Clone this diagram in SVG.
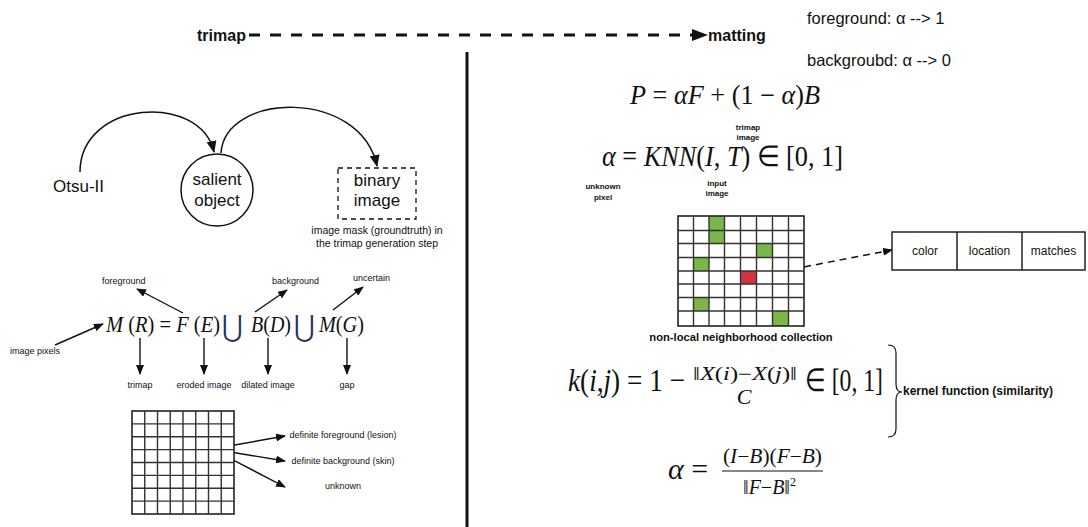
<svg xmlns="http://www.w3.org/2000/svg" width="1088" height="527" viewBox="0 0 1088 527">
<style>
.s{font-family:"Liberation Sans",Arial,sans-serif;fill:#111}
.b{font-weight:bold}
.m{font-family:"Liberation Serif","Times New Roman",serif;fill:#111}
.i{font-style:italic}
.u{font-family:"DejaVu Serif",serif;fill:#26325e}
.ln{stroke:#111;fill:none}
.g{stroke:#333;stroke-width:1.4;fill:none}
.t9{font-size:9px}
</style>
<defs>
<marker id="ah" markerUnits="userSpaceOnUse" markerWidth="12" markerHeight="10" refX="11" refY="5" orient="auto"><path d="M0,0 L12,5 L0,10 z" fill="#111"/></marker>
<marker id="ahs" markerUnits="userSpaceOnUse" markerWidth="10" markerHeight="8" refX="9" refY="4" orient="auto"><path d="M0,0 L10,4 L0,8 z" fill="#111"/></marker>
<marker id="ahb" markerUnits="userSpaceOnUse" markerWidth="16" markerHeight="12" refX="15" refY="6" orient="auto"><path d="M0,0 L16,6 L0,12 z" fill="#111"/></marker>
</defs>
<rect width="1088" height="527" fill="#fff"/>

<g id="connectors">
<line x1="249" y1="35" x2="707" y2="35" class="ln" stroke-width="3" stroke-dasharray="11,10" marker-end="url(#ahb)"/>
<line x1="467" y1="52" x2="467" y2="527" class="ln" stroke-width="3"/>
<path d="M80,172 C80,100 200,92 214,152" class="ln" stroke-width="1.5" marker-end="url(#ah)"/>
<path d="M221,153 C225,92 360,88 377,166" class="ln" stroke-width="1.5" marker-end="url(#ah)"/>
<line x1="183" y1="313" x2="137" y2="289" class="ln" stroke-width="1.4" marker-end="url(#ahs)"/>
<line x1="255" y1="312" x2="287" y2="290" class="ln" stroke-width="1.4" marker-end="url(#ahs)"/>
<line x1="333" y1="310" x2="363" y2="287" class="ln" stroke-width="1.4" marker-end="url(#ahs)"/>
<line x1="55" y1="345" x2="103" y2="324" class="ln" stroke-width="1.4" marker-end="url(#ahs)"/>
<line x1="140" y1="338" x2="140" y2="374" class="ln" stroke-width="1.4" marker-end="url(#ahs)"/>
<line x1="204" y1="338" x2="204" y2="374" class="ln" stroke-width="1.4" marker-end="url(#ahs)"/>
<line x1="268" y1="338" x2="268" y2="374" class="ln" stroke-width="1.4" marker-end="url(#ahs)"/>
<line x1="347" y1="338" x2="347" y2="374" class="ln" stroke-width="1.4" marker-end="url(#ahs)"/>
<line x1="212" y1="449" x2="285" y2="436" class="ln" stroke-width="1.4" marker-end="url(#ahs)"/>
<line x1="212" y1="449" x2="285" y2="461" class="ln" stroke-width="1.4" marker-end="url(#ahs)"/>
<line x1="212" y1="449" x2="285" y2="487" class="ln" stroke-width="1.4" marker-end="url(#ahs)"/>
<line x1="757" y1="276" x2="892" y2="250" class="ln" stroke-width="1.5" stroke-dasharray="7,5" marker-end="url(#ahs)"/>
<path d="M888,345 Q896,345 896,353 L896,384 Q896,392 902,392 Q896,392 896,400 L896,429 Q896,437 888,437" class="ln" stroke-width="1.2"/>
</g>

<g id="trimap"><text x="197" y="41" class="s b" font-size="16">trimap</text></g>
<g id="matting"><text x="708" y="41" class="s b" font-size="16">matting</text></g>
<g id="fg-note"><text x="807" y="24" class="s" font-size="16.5">foreground: α --&gt; 1</text></g>
<g id="bg-note"><text x="807" y="66" class="s" font-size="16.5">backgroubd: α --&gt; 0</text></g>

<g id="otsu"><text x="53" y="192" class="s" font-size="17">Otsu-II</text></g>
<g id="salient">
<circle cx="217" cy="190" r="36" fill="#fff" stroke="#111" stroke-width="1.5"/>
<text x="217" y="185" class="s" font-size="17" text-anchor="middle">salient</text>
<text x="217" y="206" class="s" font-size="17" text-anchor="middle">object</text>
</g>
<g id="binary">
<rect x="338" y="168" width="78" height="51" fill="#fff" stroke="#111" stroke-width="1.3" stroke-dasharray="5,4"/>
<text x="377" y="186" class="s" font-size="17" text-anchor="middle">binary</text>
<text x="377" y="206" class="s" font-size="17" text-anchor="middle">image</text>
<text x="377" y="234" class="s" font-size="10.5" text-anchor="middle">image mask (groundtruth) in</text>
<text x="377" y="247" class="s" font-size="10.5" text-anchor="middle">the trimap generation step</text>
</g>

<g id="formula-m">
<text x="106" y="332" class="m" font-size="23" textLength="114" lengthAdjust="spacingAndGlyphs"><tspan class="i">M</tspan> (<tspan class="i">R</tspan>) = <tspan class="i">F</tspan> (<tspan class="i">E</tspan>)</text>
<text x="222" y="337" class="u" font-size="30" textLength="21" lengthAdjust="spacingAndGlyphs">⋃</text>
<text x="251" y="332" class="m" font-size="23" textLength="40" lengthAdjust="spacingAndGlyphs"><tspan class="i">B</tspan>(<tspan class="i">D</tspan>)</text>
<text x="294" y="337" class="u" font-size="30" textLength="21" lengthAdjust="spacingAndGlyphs">⋃</text>
<text x="319" y="332" class="m" font-size="23" textLength="45" lengthAdjust="spacingAndGlyphs"><tspan class="i">M</tspan>(<tspan class="i">G</tspan>)</text>
</g>
<g id="labels-m" class="s t9">
<text x="102" y="284">foreground</text>
<text x="272" y="284">background</text>
<text x="353" y="281">uncertain</text>
<text x="10" y="354">image pixels</text>
<text x="140" y="388" text-anchor="middle">trimap</text>
<text x="204" y="388" text-anchor="middle">eroded image</text>
<text x="268" y="388" text-anchor="middle">dilated image</text>
<text x="347" y="388" text-anchor="middle">gap</text>
</g>

<g id="grid-left">
<rect x="132" y="411" width="102" height="103" fill="#fff" stroke="#222" stroke-width="1.6"/>
<path class="g" d="M144.75,411V514M157.5,411V514M170.25,411V514M183,411V514M195.75,411V514M208.5,411V514M221.25,411V514M132,423.9H234M132,436.75H234M132,449.6H234M132,462.5H234M132,475.4H234M132,488.25H234M132,501.1H234"/>
</g>
<g id="labels-grid" class="s t9">
<text x="343" y="438" text-anchor="middle">definite foreground (lesion)</text>
<text x="343" y="464" text-anchor="middle">definite background (skin)</text>
<text x="343" y="489" text-anchor="middle">unknown</text>
</g>

<g id="formula-p">
<text x="630" y="104" class="m" font-size="27" textLength="190" lengthAdjust="spacingAndGlyphs"><tspan class="i">P</tspan> = <tspan class="i">αF</tspan> + (1 − <tspan class="i">α</tspan>)<tspan class="i">B</tspan></text>
</g>
<g id="formula-knn">
<text x="602" y="166" class="m" font-size="29" textLength="241" lengthAdjust="spacingAndGlyphs"><tspan class="i">α</tspan> = <tspan class="i">KNN</tspan>(<tspan class="i">I</tspan>, <tspan class="i">T</tspan>) ∈ [0, 1]</text>
</g>
<g id="labels-knn" class="s b" font-size="8">
<text x="748" y="130" text-anchor="middle">trimap</text>
<text x="748" y="140" text-anchor="middle">image</text>
<text x="603" y="189" text-anchor="middle">unknown</text>
<text x="603" y="200" text-anchor="middle">pixel</text>
<text x="717" y="186" text-anchor="middle">input</text>
<text x="717" y="196" text-anchor="middle">image</text>
</g>

<g id="grid-right">
<rect x="678" y="216" width="126" height="110" fill="#fff"/>
<rect x="709" y="216" width="15.5" height="14.5" fill="#7ab648"/>
<rect x="709" y="230.5" width="15.5" height="13" fill="#7ab648"/>
<rect x="756.5" y="243.5" width="16" height="14" fill="#7ab648"/>
<rect x="693.5" y="257.5" width="15.5" height="13.5" fill="#7ab648"/>
<rect x="693.5" y="297.5" width="15.5" height="13.5" fill="#7ab648"/>
<rect x="772.5" y="311" width="16" height="15" fill="#7ab648"/>
<rect x="740.5" y="271" width="16" height="13" fill="#d0343f"/>
<rect x="678" y="216" width="126" height="110" fill="none" stroke="#222" stroke-width="1.6"/>
<path class="g" d="M693.5,216V326M709,216V326M724.5,216V326M740.5,216V326M756.5,216V326M772.5,216V326M788.5,216V326M678,230.5H804M678,243.5H804M678,257.5H804M678,271H804M678,284H804M678,297.5H804M678,311H804"/>
<text x="741" y="341" class="s b" font-size="11.2" text-anchor="middle">non-local neighborhood collection</text>
</g>

<g id="table">
<rect x="892" y="232" width="193" height="38" fill="#fff" stroke="#222" stroke-width="1.5"/>
<line x1="957" y1="232" x2="957" y2="270" stroke="#222" stroke-width="1.5"/>
<line x1="1022" y1="232" x2="1022" y2="270" stroke="#222" stroke-width="1.5"/>
<text x="925" y="255" class="s" font-size="12" text-anchor="middle">color</text>
<text x="989.5" y="255" class="s" font-size="12" text-anchor="middle">location</text>
<text x="1053.5" y="255" class="s" font-size="12" text-anchor="middle">matches</text>
</g>

<g id="formula-kernel">
<text x="568" y="391" class="m" font-size="32" textLength="117" lengthAdjust="spacingAndGlyphs"><tspan class="i">k</tspan>(<tspan class="i">i</tspan>,<tspan class="i">j</tspan>) = 1 −</text>
<text x="693" y="380" class="m" font-size="18" textLength="104" lengthAdjust="spacingAndGlyphs">‖<tspan class="i">X</tspan>(<tspan class="i">i</tspan>)−<tspan class="i">X</tspan>(<tspan class="i">j</tspan>)‖</text>
<text x="744" y="404" class="m i" font-size="22" text-anchor="middle">C</text>
<text x="805" y="391" class="m" font-size="32" textLength="78" lengthAdjust="spacingAndGlyphs">∈ [0, 1]</text>
<text x="903" y="395" class="s b" font-size="12">kernel function (similarity)</text>
</g>

<g id="formula-alpha">
<text x="668" y="479" class="m" font-size="30"><tspan class="i">α</tspan> =</text>
<text x="723" y="463" class="m" font-size="20" textLength="99" lengthAdjust="spacingAndGlyphs">(<tspan class="i">I</tspan>−<tspan class="i">B</tspan>)(<tspan class="i">F</tspan>−<tspan class="i">B</tspan>)</text>
<line x1="722" y1="471" x2="823" y2="471" stroke="#111" stroke-width="1.2"/>
<text x="743" y="494" class="m" font-size="20">‖<tspan class="i">F</tspan>−<tspan class="i">B</tspan>‖<tspan font-size="12" dy="-8">2</tspan></text>
</g>
</svg>
